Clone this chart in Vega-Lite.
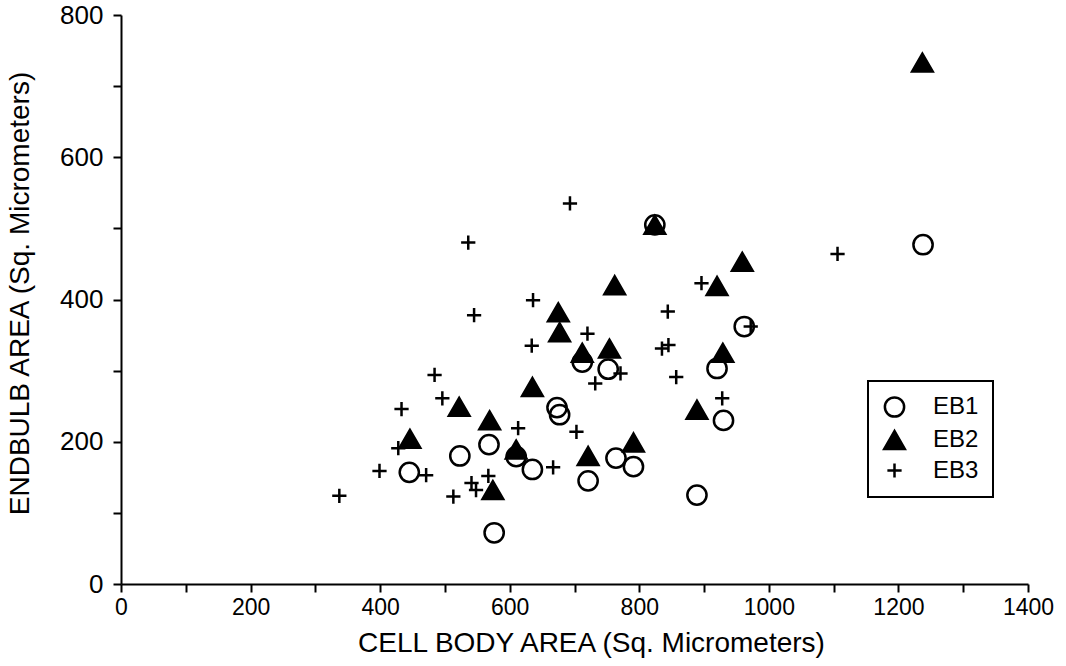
{
  "$schema": "https://vega.github.io/schema/vega-lite/v6.json",
  "width": 907,
  "height": 569,
  "autosize": "none",
  "padding": {"left": 121, "top": 15, "right": 38, "bottom": 82},
  "background": "white",
  "config": {"view": {"stroke": null}, "font": "Liberation Sans", "legend": {"strokeWidth": 2}},
  "data": {"values": [
    {"series": "EB1", "cell": 1238, "endbulb": 477},
    {"series": "EB1", "cell": 824, "endbulb": 505},
    {"series": "EB1", "cell": 962, "endbulb": 362},
    {"series": "EB1", "cell": 712, "endbulb": 312},
    {"series": "EB1", "cell": 752, "endbulb": 302},
    {"series": "EB1", "cell": 920, "endbulb": 303},
    {"series": "EB1", "cell": 677, "endbulb": 238},
    {"series": "EB1", "cell": 673, "endbulb": 248},
    {"series": "EB1", "cell": 930, "endbulb": 230},
    {"series": "EB1", "cell": 568, "endbulb": 196},
    {"series": "EB1", "cell": 523, "endbulb": 180},
    {"series": "EB1", "cell": 610, "endbulb": 179},
    {"series": "EB1", "cell": 635, "endbulb": 161},
    {"series": "EB1", "cell": 445, "endbulb": 157},
    {"series": "EB1", "cell": 721, "endbulb": 145},
    {"series": "EB1", "cell": 764, "endbulb": 177},
    {"series": "EB1", "cell": 791, "endbulb": 165},
    {"series": "EB1", "cell": 889, "endbulb": 125},
    {"series": "EB1", "cell": 576, "endbulb": 72},
    {"series": "EB2", "cell": 1237, "endbulb": 733},
    {"series": "EB2", "cell": 824, "endbulb": 505},
    {"series": "EB2", "cell": 959, "endbulb": 453},
    {"series": "EB2", "cell": 762, "endbulb": 420},
    {"series": "EB2", "cell": 920, "endbulb": 419},
    {"series": "EB2", "cell": 675, "endbulb": 382},
    {"series": "EB2", "cell": 677, "endbulb": 354},
    {"series": "EB2", "cell": 712, "endbulb": 325},
    {"series": "EB2", "cell": 754, "endbulb": 331},
    {"series": "EB2", "cell": 929, "endbulb": 325},
    {"series": "EB2", "cell": 635, "endbulb": 277},
    {"series": "EB2", "cell": 522, "endbulb": 249},
    {"series": "EB2", "cell": 569, "endbulb": 230},
    {"series": "EB2", "cell": 446, "endbulb": 204},
    {"series": "EB2", "cell": 610, "endbulb": 189},
    {"series": "EB2", "cell": 889, "endbulb": 245},
    {"series": "EB2", "cell": 791, "endbulb": 199},
    {"series": "EB2", "cell": 721, "endbulb": 180},
    {"series": "EB2", "cell": 574, "endbulb": 132},
    {"series": "EB3", "cell": 693, "endbulb": 535},
    {"series": "EB3", "cell": 536, "endbulb": 480},
    {"series": "EB3", "cell": 1106, "endbulb": 464},
    {"series": "EB3", "cell": 896, "endbulb": 423},
    {"series": "EB3", "cell": 636, "endbulb": 399},
    {"series": "EB3", "cell": 844, "endbulb": 383},
    {"series": "EB3", "cell": 545, "endbulb": 378},
    {"series": "EB3", "cell": 972, "endbulb": 362},
    {"series": "EB3", "cell": 720, "endbulb": 352},
    {"series": "EB3", "cell": 634, "endbulb": 335},
    {"series": "EB3", "cell": 835, "endbulb": 331},
    {"series": "EB3", "cell": 845, "endbulb": 336},
    {"series": "EB3", "cell": 484, "endbulb": 294},
    {"series": "EB3", "cell": 771, "endbulb": 296},
    {"series": "EB3", "cell": 857, "endbulb": 291},
    {"series": "EB3", "cell": 732, "endbulb": 282},
    {"series": "EB3", "cell": 496, "endbulb": 261},
    {"series": "EB3", "cell": 928, "endbulb": 261},
    {"series": "EB3", "cell": 433, "endbulb": 246},
    {"series": "EB3", "cell": 613, "endbulb": 219},
    {"series": "EB3", "cell": 703, "endbulb": 214},
    {"series": "EB3", "cell": 428, "endbulb": 191},
    {"series": "EB3", "cell": 667, "endbulb": 164},
    {"series": "EB3", "cell": 471, "endbulb": 153},
    {"series": "EB3", "cell": 399, "endbulb": 159},
    {"series": "EB3", "cell": 567, "endbulb": 152},
    {"series": "EB3", "cell": 541, "endbulb": 142},
    {"series": "EB3", "cell": 548, "endbulb": 132},
    {"series": "EB3", "cell": 513, "endbulb": 123},
    {"series": "EB3", "cell": 337, "endbulb": 124}
  ]},
  "mark": {"type": "point", "filled": false, "strokeWidth": 2.5, "opacity": 1},
  "encoding": {
    "x": {
      "field": "cell", "type": "quantitative",
      "scale": {"domain": [0, 1400], "nice": false},
      "axis": {
        "values": [0, 100, 200, 300, 400, 500, 600, 700, 800, 900, 1000, 1100, 1200, 1300, 1400],
        "labelExpr": "datum.value % 200 === 0 ? datum.label : ''",
        "format": "d", "grid": false,
        "domainColor": "black", "domainWidth": 2,
        "tickColor": "black", "tickWidth": 2, "tickSize": 8,
        "labelFontSize": 23, "labelColor": "black", "labelPadding": 4,
        "labelFlush": false, "labelOverlap": false,
        "title": "CELL BODY AREA (Sq. Micrometers)",
        "titleFontSize": 28, "titleFontWeight": "normal", "titleColor": "black",
        "titleX": 470, "titleY": 45, "titleBaseline": "top", "titleAlign": "center"
      }
    },
    "y": {
      "field": "endbulb", "type": "quantitative",
      "scale": {"domain": [0, 800], "nice": false},
      "axis": {
        "values": [0, 100, 200, 300, 400, 500, 600, 700, 800],
        "labelExpr": "datum.value % 200 === 0 ? datum.label : ''",
        "format": "d", "grid": false,
        "domainColor": "black", "domainWidth": 2,
        "tickColor": "black", "tickWidth": 2, "tickSize": 8,
        "labelFontSize": 26, "labelColor": "black", "labelPadding": 10,
        "labelFlush": false, "labelOverlap": false,
        "title": "ENDBULB AREA (Sq. Micrometers)",
        "titleFontSize": 28, "titleFontWeight": "normal", "titleColor": "black",
        "titleX": -101, "titleY": 278, "titleBaseline": "middle", "titleAlign": "center", "titleAngle": -90
      }
    },
    "shape": {
      "field": "series", "type": "nominal",
      "scale": {"domain": ["EB1", "EB2", "EB3"], "range": ["circle", "triangle-up", "M-0.65,0H0.65M0,-0.65V0.65"]},
      "legend": {"title": null, "orient": "none", "legendX": 747, "legendY": 366, "padding": 14, "rowPadding": 4, "labelOffset": 26, "labelFontSize": 24, "labelColor": "black", "strokeColor": "black", "fillColor": "white", "symbolStrokeWidth": 2.5}
    },
    "fill": {
      "field": "series", "type": "nominal",
      "scale": {"domain": ["EB1", "EB2", "EB3"], "range": ["transparent", "black", "transparent"]},
      "legend": {"title": null, "orient": "none", "legendX": 747, "legendY": 366, "padding": 14, "rowPadding": 4, "labelOffset": 26, "labelFontSize": 24, "labelColor": "black", "strokeColor": "black", "fillColor": "white", "symbolStrokeWidth": 2.5}
    },
    "stroke": {
      "field": "series", "type": "nominal",
      "scale": {"domain": ["EB1", "EB2", "EB3"], "range": ["black", "black", "black"]},
      "legend": {"title": null, "orient": "none", "legendX": 747, "legendY": 366, "padding": 14, "rowPadding": 4, "labelOffset": 26, "labelFontSize": 24, "labelColor": "black", "strokeColor": "black", "fillColor": "white", "symbolStrokeWidth": 2.5}
    },
    "size": {
      "field": "series", "type": "nominal",
      "scale": {"domain": ["EB1", "EB2", "EB3"], "range": [370, 480, 200]},
      "legend": {"title": null, "orient": "none", "legendX": 747, "legendY": 366, "padding": 14, "rowPadding": 4, "labelOffset": 26, "labelFontSize": 24, "labelColor": "black", "strokeColor": "black", "fillColor": "white", "symbolStrokeWidth": 2.5}
    }
  }
}
